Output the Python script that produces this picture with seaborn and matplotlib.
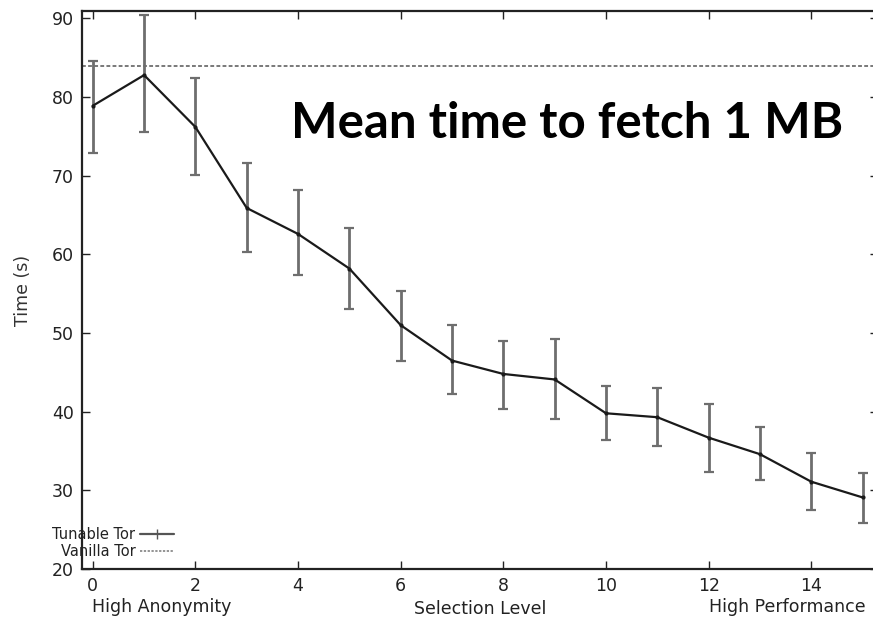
import numpy as np
import pandas as pd
import seaborn as sns
import matplotlib.pyplot as plt
from matplotlib.lines import Line2D

# values
selection_level = [0, 1, 2, 3, 4, 5, 6, 7, 8, 9, 10, 11, 12, 13, 14, 15]
mean_time = [78.9, 82.8, 76.2, 65.9, 62.6, 58.2, 51.0, 46.5, 44.8, 44.1, 39.8, 39.3, 36.7, 34.6, 31.1, 29.1]
err_low = [72.9, 75.6, 70.1, 60.3, 57.4, 53.1, 46.5, 42.2, 40.3, 39.1, 36.4, 35.6, 32.3, 31.3, 27.5, 25.8]
err_high = [84.6, 90.4, 82.4, 71.6, 68.2, 63.4, 55.4, 51.0, 49.0, 49.2, 43.3, 43.0, 41.0, 38.1, 34.8, 32.2]
vanilla_time = 84.0
x_ticks = [0, 2, 4, 6, 8, 10, 12, 14]
y_ticks = [20, 30, 40, 50, 60, 70, 80, 90]

df = pd.DataFrame({"level": selection_level, "time": mean_time,
                   "lo": err_low, "hi": err_high})

sns.set_style("ticks")
plt.rcParams['font.family'] = ['DejaVu Sans']

fig = plt.figure(figsize=(8.73, 6.19), dpi=100)
ax = fig.add_axes([82/873, 1 - 569/619, 796/873, (569 - 11)/619])

# error bars (grey) then the mean line (black)
yerr = np.vstack([df["time"] - df["lo"], df["hi"] - df["time"]])
ax.errorbar(df["level"], df["time"], yerr=yerr, fmt="none", ecolor="#6e6e6e",
            elinewidth=2.0, capsize=3.5, capthick=1.6, zorder=2)
sns.lineplot(data=df, x="level", y="time", ax=ax, color="#1a1a1a", linewidth=1.6,
             marker="o", markersize=3, markeredgewidth=0, zorder=3)
ax.axhline(vanilla_time, color="#555555", linestyle=(0, (2.5, 1.5)), linewidth=1.1, zorder=1)

ax.set_xlim(-0.21, 15.3)
ax.set_ylim(20, 90.95)
ax.set_xticks(x_ticks)
ax.set_yticks(y_ticks)
ax.tick_params(direction="in", length=6, width=1, top=True, right=True,
               labelsize=12.5, colors="#222222", pad=6)
for s in ax.spines.values():
    s.set_linewidth(1.6)
    s.set_color("#222222")
ax.spines["right"].set_visible(False)  # cut off by the image edge in the original

ax.set_xlabel("")
ax.set_ylabel("Time (s)", fontsize=12.5, color="#333333", labelpad=14)

# gnuplot-style x axis captions
fig.text(92/873, 1 - 607/619, "High Anonymity", fontsize=12.5, color="#222222",
         ha="left", va="center")
fig.text(480/873, 1 - 609/619, "Selection Level", fontsize=12.5, color="#222222",
         ha="center", va="center")
fig.text(866/873, 1 - 607/619, "High Performance", fontsize=12.5, color="#222222",
         ha="right", va="center")

# big overlay title inside the plot
fig.text(843/873, 1 - 123/619, "Mean time to fetch 1 MB",
         fontsize=35.5, fontweight="bold", family=["Lato", "DejaVu Sans"],
         ha="right", va="center", color="black")

handles = [
    Line2D([0], [0], color="#555555", linewidth=1.6, marker="|", markersize=7,
           markevery=[0, 1]),
    Line2D([0], [0], color="#777777", linestyle=(0, (1.5, 1)), linewidth=1.1),
]
leg = ax.legend(handles, ["Tunable Tor", "Vanilla Tor"], loc="lower left",
                bbox_to_anchor=(-0.052, -0.003),
                markerfirst=False, frameon=False, fontsize=10.5, handlelength=2.3,
                handletextpad=0.35, labelspacing=0.12, borderaxespad=0.4)
for t in leg.get_texts():
    t.set_ha("right")
    t.set_color("#222222")

fig.savefig("out.png", dpi=100)
